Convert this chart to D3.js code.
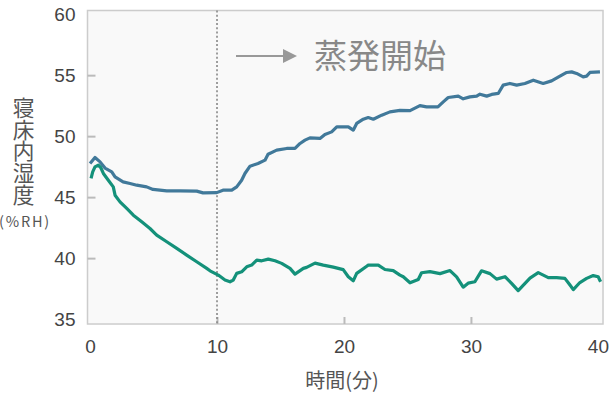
<!DOCTYPE html>
<html>
<head>
<meta charset="utf-8">
<script src="https://cdn.jsdelivr.net/npm/d3@7"></script>
<style>
  body { margin: 0; background: #fff; }
  svg { display: block; font-family: "Noto Sans", "Noto Sans CJK JP", sans-serif; }
</style>
</head>
<body>
<div class="chart"></div>
<script>
// time (min), for each series
var blueTime = [0, 0.39, 0.79, 1.18, 1.71, 1.97, 2.6, 3.15, 3.68, 4.46, 4.96, 6.04, 7.09, 8.4, 8.9, 9.98,
  10.47, 11.16, 11.55, 11.94, 12.2, 12.6, 13.23, 13.78, 14.02, 14.7, 15.49, 16.14, 16.54, 16.93, 17.32,
  18.11, 18.5, 19.03, 19.43, 20.34, 20.73, 21.0, 21.52, 21.91, 22.31, 22.97, 23.62, 24.41, 25.2, 25.98,
  26.51, 27.4, 27.82, 28.21, 29.0, 29.39, 29.92, 30.45, 30.71, 31.24, 31.63, 32.15, 32.54, 33.07, 33.6,
  34.25, 34.91, 35.69, 36.35, 37.01, 37.54, 37.93, 38.32, 38.84, 39.11, 39.37, 40.16];
var blueHum = [47.76, 48.25, 47.89, 47.38, 47.07, 46.66, 46.25, 46.12, 45.98, 45.84, 45.63, 45.52, 45.52, 45.49, 45.35, 45.37,
  45.57, 45.57, 45.84, 46.39, 46.94, 47.54, 47.76, 48.03, 48.52, 48.85, 48.99, 48.99, 49.4, 49.67, 49.86,
  49.81, 50.14, 50.35, 50.76, 50.76, 50.49, 51.04, 51.39, 51.53, 51.39, 51.72, 51.99, 52.11, 52.09, 52.5,
  52.4, 52.4, 52.81, 53.17, 53.28, 53.06, 53.22, 53.28, 53.44, 53.28, 53.42, 53.5, 54.18, 54.32, 54.18,
  54.32, 54.59, 54.32, 54.53, 54.92, 55.22, 55.27, 55.14, 54.86, 54.92, 55.22, 55.27];

var greenTime = [0.08, 0.21, 0.39, 0.65, 0.84, 1.05, 1.44, 1.83, 1.97, 2.36, 2.89, 3.41, 4.07, 4.72, 5.25,
  6.04, 6.83, 7.61, 8.4, 9.19, 9.45, 10.1, 10.63, 11.02, 11.28, 11.55, 11.94, 12.34, 12.73, 13.13, 13.52,
  14.04, 14.57, 15.09, 15.75, 16.14, 16.8, 17.06, 17.72, 18.37, 19.16, 19.94, 20.34, 20.73, 21.0, 21.79,
  21.91, 22.7, 23.23, 23.88, 24.41, 24.67, 25.2, 25.85, 26.11, 26.77, 27.56, 28.35, 28.87, 29.39, 29.78,
  30.31, 30.83, 31.5, 32.02, 32.68, 33.2, 33.72, 34.65, 35.3, 36.09, 36.75, 37.4, 37.8, 38.06, 38.58,
  39.11, 39.63, 40.02, 40.21];
var greenHum = [46.53, 47.07, 47.48, 47.62, 47.43, 46.94, 46.39, 45.84, 45.16, 44.61, 44.07, 43.52, 42.98, 42.43, 41.89,
  41.34, 40.8, 40.25, 39.7, 39.16, 38.96, 38.61, 38.2, 38.06, 38.2, 38.75, 38.88, 39.29, 39.43, 39.84, 39.78,
  39.92, 39.78, 39.57, 39.16, 38.69, 39.16, 39.24, 39.59, 39.43, 39.26, 39.06, 38.47, 38.14, 38.75, 39.34,
  39.43, 39.43, 39.07, 38.98, 38.61, 38.47, 37.98, 38.25, 38.8, 38.89, 38.73, 38.98, 38.47, 37.62, 37.95,
  38.06, 38.96, 38.73, 38.28, 38.48, 37.93, 37.34, 38.36, 38.81, 38.4, 38.4, 38.34, 37.79, 37.42, 38.0,
  38.34, 38.57, 38.47, 38.06];

// tick values and labels
var xTicks = [0, 10, 20, 30, 40];
var yTicks = [35, 40, 45, 50, 55, 60];
var yTitle = "寝床内湿度";
var yUnit = "(%RH)";
var xTitle = "時間(分)";
var noteText = "蒸発開始";
var startTime = 10;

const w = 614;
const h = 400;

// scales
const xScale = d3.scaleLinear().domain([-0.2, 40.4]).range([87.5, 603]);
const yScale = d3.scaleLinear().domain([34.6, 60.3]).range([324, 10.5]);

const svg = d3.select(".chart")
  .append("svg")
  .attr("width", w)
  .attr("height", h);

// plot background + frame
svg.append("rect")
  .attr("x", xScale(-0.2))
  .attr("y", yScale(60.3))
  .attr("width", xScale(40.4) - xScale(-0.2))
  .attr("height", yScale(34.6) - yScale(60.3))
  .attr("fill", "#f9f9f9")
  .attr("stroke", "#cccccc")
  .attr("stroke-width", 1.5);

// y axis, ticks pointing inward
const yAxis = d3.axisLeft(yScale)
  .tickValues(yTicks)
  .tickSizeInner(-8)
  .tickSizeOuter(0)
  .tickPadding(12);
const gy = svg.append("g")
  .attr("transform", "translate(" + xScale(-0.2) + ",0)")
  .call(yAxis);
gy.select(".domain").remove();
gy.selectAll(".tick line")
  .attr("stroke", "#bbbbbb")
  .attr("stroke-width", 2)
  .attr("opacity", (d) => (d == 35 || d == 60) ? 0 : 1);
gy.selectAll(".tick text")
  .attr("fill", "#444")
  .style("font-size", "19px");

// x axis
const xAxis = d3.axisBottom(xScale)
  .tickValues(xTicks)
  .tickSizeInner(-7)
  .tickSizeOuter(0)
  .tickPadding(16);
const gx = svg.append("g")
  .attr("transform", "translate(0," + yScale(34.6) + ")")
  .call(xAxis);
gx.select(".domain").remove();
gx.selectAll(".tick line")
  .attr("stroke", "#bbbbbb")
  .attr("stroke-width", 2)
  .attr("opacity", (d) => (d == 0 || d == 40) ? 0 : 1);
gx.selectAll(".tick text")
  .attr("fill", "#444")
  .style("font-size", "19px");

// dotted line where evaporation starts
svg.append("line")
  .attr("x1", xScale(startTime))
  .attr("x2", xScale(startTime))
  .attr("y1", yScale(60.3))
  .attr("y2", yScale(34.6))
  .attr("stroke", "#888")
  .attr("stroke-width", 1.6)
  .attr("stroke-dasharray", "2,2.2");

// lines
const line = d3.line()
  .x((d) => xScale(d[0]))
  .y((d) => yScale(d[1]));

const blueData = blueTime.map((t, i) => [t, blueHum[i]]);
const greenData = greenTime.map((t, i) => [t, greenHum[i]]);

svg.append("path")
  .datum(blueData)
  .attr("d", line)
  .attr("fill", "none")
  .attr("stroke", "#41799a")
  .attr("stroke-width", 3.2)
  .attr("stroke-linejoin", "round");

svg.append("path")
  .datum(greenData)
  .attr("d", line)
  .attr("fill", "none")
  .attr("stroke", "#14917a")
  .attr("stroke-width", 3.2)
  .attr("stroke-linejoin", "round");

// arrow + note
svg.append("line")
  .attr("x1", 236)
  .attr("x2", 288)
  .attr("y1", 56)
  .attr("y2", 56)
  .attr("stroke", "#999")
  .attr("stroke-width", 2.2);
svg.append("path")
  .attr("d", "M297,56 L283,49 L283,63 Z")
  .attr("fill", "#999");

svg.append("text")
  .attr("x", 314)
  .attr("y", 68)
  .attr("fill", "#888")
  .style("font-family", "'Noto Sans CJK JP', sans-serif")
  .style("font-size", "33px")
  .text(noteText);

// y title, written vertically as one text
svg.append("text")
  .attr("x", 23.5)
  .attr("y", 97)
  .attr("fill", "#555")
  .style("writing-mode", "vertical-rl")
  .style("font-family", "'Noto Sans CJK JP', sans-serif")
  .style("font-size", "21.7px")
  .text(yTitle);

svg.append("text")
  .attr("x", 25)
  .attr("y", 227)
  .attr("text-anchor", "middle")
  .attr("fill", "#555")
  .style("font-family", "'Noto Sans CJK JP', sans-serif")
  .style("font-size", "14.5px")
  .style("letter-spacing", "1.8px")
  .text(yUnit);

// x title
svg.append("text")
  .attr("x", 342)
  .attr("y", 388)
  .attr("text-anchor", "middle")
  .attr("fill", "#555")
  .style("font-family", "'Noto Sans CJK JP', sans-serif")
  .style("font-size", "20px")
  .text(xTitle);
</script>
</body>
</html>
